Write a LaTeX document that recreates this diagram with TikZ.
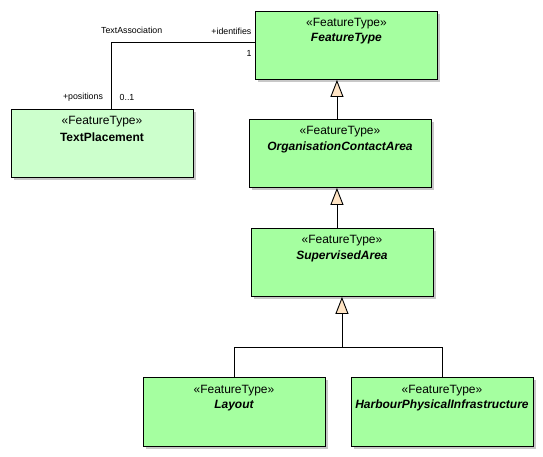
\documentclass[tikz,border=0pt]{standalone}
\usepackage{fontspec}
\setmainfont{Liberation Sans}
\usetikzlibrary{arrows.meta,shadows,calc}
\definecolor{ftgreen}{RGB}{165,255,160}
\definecolor{tpgreen}{RGB}{204,255,204}
\definecolor{peach}{RGB}{255,228,196}
\definecolor{shadowgrey}{RGB}{200,200,200}
\tikzset{
  umlbox/.style={draw=black, line width=0.9pt, fill=ftgreen, minimum width=182pt, minimum height=68.5pt, anchor=north west, inner sep=0pt,
    drop shadow={shadow xshift=3pt, shadow yshift=-3pt, fill=shadowgrey, opacity=1}},
  tpbox/.style={umlbox, fill=tpgreen},
  stereo/.style={font=\fontsize{12}{13}\selectfont, inner sep=0pt},
  cname/.style={font=\fontsize{12}{13}\selectfont\bfseries\itshape, inner sep=0pt},
  cnameup/.style={font=\fontsize{12}{13}\selectfont\bfseries, inner sep=0pt},
  small/.style={font=\fontsize{8.8}{10}\selectfont, inner sep=0pt},
  conn/.style={line width=0.9pt, draw=black},
  gen/.style={conn, -{Triangle[length=17pt, width=13pt, fill=peach, line width=0.9pt]}}
}
\begin{document}
\begin{tikzpicture}[x=1pt,y=-1pt]
\useasboundingbox (0,0) rectangle (543,456);
% boxes
\node[umlbox] (ft) at (255,10.5) {};
\node[umlbox] (oca) at (248.5,118.5) {};
\node[umlbox] (sa) at (250.5,227.5) {};
\node[tpbox] (tp) at (10.5,108.5) {};
\node[umlbox] (lay) at (142.5,377) {};
\node[umlbox] (hpi) at (350.5,377) {};
% texts
\node[stereo] (ftS) at ($(ft.north)+(0,13.5)$) {«FeatureType»};
\node[cname] (ftN) at ($(ft.north)+(0,28.5)$) {FeatureType};
\node[stereo] (ocaS) at ($(oca.north)+(0,13.5)$) {«FeatureType»};
\node[cname] (ocaN) at ($(oca.north)+(0,28.5)$) {OrganisationContactArea};
\node[stereo] (saS) at ($(sa.north)+(0,13.5)$) {«FeatureType»};
\node[cname] (saN) at ($(sa.north)+(0,28.5)$) {SupervisedArea};
\node[stereo] (tpS) at ($(tp.north)+(0,13.5)$) {«FeatureType»};
\node[cnameup] (tpN) at ($(tp.north)+(0,28.5)$) {TextPlacement};
\node[stereo] (layS) at ($(lay.north)+(0,13.5)$) {«FeatureType»};
\node[cname] (layN) at ($(lay.north)+(0,28.5)$) {Layout};
\node[stereo] (hpiS) at ($(hpi.north)+(0,13.5)$) {«FeatureType»};
\node[cname] (hpiN) at ($(hpi.north)+(0,28.5)$) {HarbourPhysicalInfrastructure};
% generalisations
\coordinate (g1) at ($(ft.south)+(-9.5,0)$);
\coordinate (g2) at ($(oca.south)+(-3,0)$);
\draw[gen] (oca.north -| g1) -- (g1);
\draw[gen] (sa.north -| g2) -- (g2);
\coordinate (j) at ($(sa.south)+(0,51)$);
\draw[conn] (lay.north) |- (j);
\draw[conn] (hpi.north) |- (j);
\draw[gen] (j) -- (sa.south);
% association
\coordinate (a1) at ($(tp.north)+(9.6,0)$);
\coordinate (a2) at ($(ft.west)+(0,-2.3)$);
\draw[conn] (a1) |- (a2);
\node[small] (lblA) at (131.7,30) {TextAssociation};
\node[small, anchor=east] (lblI) at (251.5,31) {+identifies};
\node[small] (lbl1) at (249,53.5) {1};
\node[small] (lblP) at (83,97.5) {+positions};
\node[small] (lblM) at (127,97.5) {0..1};
\end{tikzpicture}
\end{document}
